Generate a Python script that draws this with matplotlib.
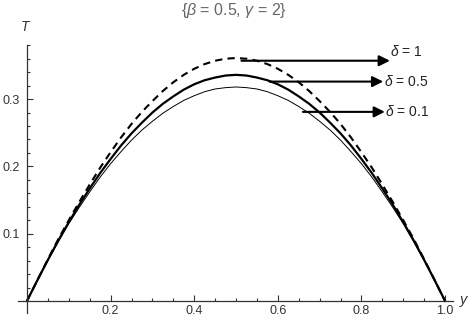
import numpy as np
import matplotlib.pyplot as plt
from matplotlib.ticker import MultipleLocator, FixedLocator

plt.rcParams['font.family'] = ['Liberation Sans', 'DejaVu Sans']
plt.rcParams['mathtext.fontset'] = 'custom'
plt.rcParams['mathtext.it'] = 'Liberation Sans:italic'
plt.rcParams['mathtext.rm'] = 'Liberation Sans'

# y positions (read at 0.025 steps)
y = np.array([0, 0.025, 0.05, 0.075, 0.10, 0.125, 0.15, 0.175, 0.20, 0.225, 0.25,
              0.275, 0.30, 0.325, 0.35, 0.375, 0.40, 0.425, 0.45, 0.475, 0.50,
              0.525, 0.55, 0.575, 0.60, 0.625, 0.65, 0.675, 0.70, 0.725, 0.75,
              0.775, 0.80, 0.825, 0.85, 0.875, 0.90, 0.925, 0.95, 0.975, 1.0])

# delta = 1 (dashed)
T_d1 = np.array([0, 0.031, 0.062, 0.092, 0.120, 0.147, 0.173, 0.198, 0.221, 0.243, 0.263,
                 0.281, 0.297, 0.312, 0.325, 0.336, 0.345, 0.352, 0.357, 0.360, 0.361,
                 0.360, 0.357, 0.352, 0.345, 0.336, 0.325, 0.312, 0.297, 0.281, 0.263,
                 0.243, 0.221, 0.198, 0.173, 0.147, 0.120, 0.092, 0.062, 0.031, 0])
# delta = 0.5 (thick)
T_d05 = np.array([0, 0.031, 0.061, 0.090, 0.117, 0.143, 0.167, 0.190, 0.211, 0.231, 0.249,
                  0.265, 0.280, 0.293, 0.304, 0.314, 0.322, 0.328, 0.332, 0.335, 0.336,
                  0.335, 0.332, 0.328, 0.322, 0.314, 0.304, 0.293, 0.280, 0.265, 0.249,
                  0.231, 0.211, 0.190, 0.167, 0.143, 0.117, 0.090, 0.061, 0.031, 0])
# delta = 0.1 (thin)
T_d01 = np.array([0, 0.031, 0.060, 0.088, 0.115, 0.139, 0.162, 0.184, 0.204, 0.222, 0.239,
                  0.254, 0.267, 0.279, 0.289, 0.298, 0.305, 0.311, 0.315, 0.317, 0.318,
                  0.317, 0.315, 0.311, 0.305, 0.298, 0.289, 0.279, 0.267, 0.254, 0.239,
                  0.222, 0.204, 0.184, 0.162, 0.139, 0.115, 0.088, 0.060, 0.031, 0])

labels = [r'$\delta$ = 1', r'$\delta$ = 0.5', r'$\delta$ = 0.1']

fig = plt.figure(figsize=(4.73, 3.2), dpi=100)
ax = fig.add_axes([0.0376, 0.0216, 0.921, 0.837])

ax.plot(y, T_d1, color='black', lw=1.5, linestyle=(0, (3.5, 2.5)))
ax.plot(y, T_d05, color='black', lw=1.6, solid_joinstyle='round')
ax.plot(y, T_d01, color='black', lw=0.7, solid_joinstyle='round')

# arrows and labels
arrows = [((0.513, 0.357), (0.868, 0.357)),
          ((0.58, 0.326), (0.852, 0.326)),
          ((0.66, 0.281), (0.856, 0.281))]
label_pos = [(0.868, 0.371), (0.853, 0.326), (0.857, 0.281)]
for (start, tip), (lx, ly), lab in zip(arrows, label_pos, labels):
    ax.annotate('', xy=tip, xytext=start,
                arrowprops=dict(arrowstyle='-|>', lw=1.5, color='black',
                                mutation_scale=16, shrinkA=0, shrinkB=0))
    ax.text(lx, ly, lab, fontsize=10, va='center', ha='left', color='#222222')

ax.set_xlim(-0.022, 1.02)
ax.set_ylim(-0.018, 0.38)

for s in ['top', 'right']:
    ax.spines[s].set_visible(False)
ax.spines['left'].set_position(('data', 0))
ax.spines['bottom'].set_position(('data', 0))
for s in ['left', 'bottom']:
    ax.spines[s].set_linewidth(0.9)
    ax.spines[s].set_color('#333333')

ax.xaxis.set_major_locator(FixedLocator([0.2, 0.4, 0.6, 0.8, 1.0]))
ax.xaxis.set_minor_locator(MultipleLocator(0.05))
ax.yaxis.set_major_locator(FixedLocator([0.1, 0.2, 0.3]))
ax.yaxis.set_minor_locator(MultipleLocator(0.02))
ax.set_xticklabels(['0.2', '0.4', '0.6', '0.8', '1.0'])
ax.set_yticklabels(['0.1', '0.2', '0.3'])
ax.tick_params(which='both', direction='in', color='#333333', labelsize=9,
               labelcolor='#333333')
ax.tick_params(which='major', length=4.5, width=0.8)
ax.tick_params(which='minor', length=2.5, width=0.8)
ax.tick_params(axis='x', pad=3)
ax.tick_params(axis='y', pad=5)

fig.text(25 / 473, 1 - 27 / 320, 'T', fontsize=10, style='italic', color='#333333',
         ha='center', va='center')
fig.text(464 / 473, 1 - 300 / 320, 'y', fontsize=10.5, style='italic', color='#333333',
         ha='center', va='center')
fig.text(234 / 473, 1 - 10 / 320, r'{$\beta$ = 0.5, $\gamma$ = 2}', fontsize=11.5,
         color='#666666', ha='center', va='center')

fig.savefig('out.png', dpi=100)
